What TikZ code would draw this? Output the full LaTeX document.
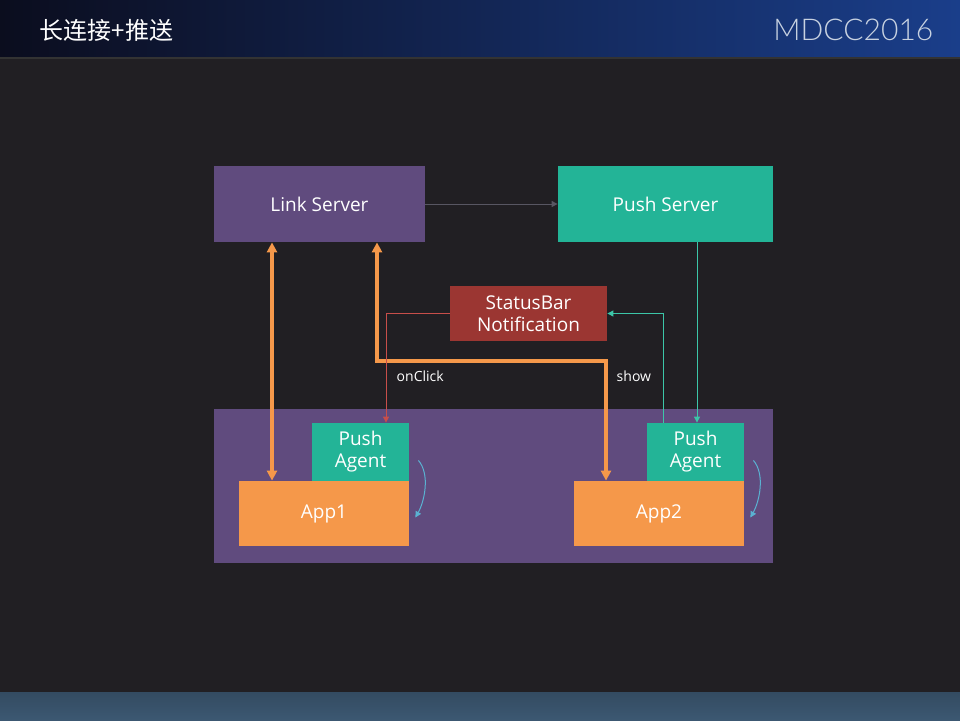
\documentclass[tikz,border=0pt]{standalone}
\usepackage{fontspec}
\setmainfont{Open Sans}
\newfontfamily\cjk{Noto Sans CJK SC}
\newfontfamily\thinfont{Lato Light}
\usepackage{tikz}
\usetikzlibrary{arrows.meta,calc}

\definecolor{bgdark}{RGB}{33,31,35}
\definecolor{boxpurple}{RGB}{96,75,126}
\definecolor{boxteal}{RGB}{35,180,151}
\definecolor{boxred}{RGB}{155,54,50}
\definecolor{boxorange}{RGB}{245,152,74}
\definecolor{linered}{RGB}{200,78,74}
\definecolor{lineteal}{RGB}{60,198,168}
\definecolor{lineblue}{RGB}{90,178,210}
\definecolor{linegray}{RGB}{88,86,98}
\definecolor{headleft}{RGB}{11,13,30}
\definecolor{headright}{RGB}{26,62,138}
\definecolor{footblue}{RGB}{60,88,114}
\definecolor{brandgray}{RGB}{200,210,225}

\begin{document}
\begin{tikzpicture}[x=1pt,y=-1pt,thick]
    %
    % `box' is used for all the coloured blocks.
    % `biarrow' is the thick orange link, `thinarrow' the small signals.
    \tikzstyle{box} = [text=white,inner sep=0pt,align=center,font=\fontsize{19}{22}\selectfont]
    \tikzstyle{biarrow} = [boxorange,line width=3.5pt,{Triangle[length=10pt,width=10pt]}-{Triangle[length=10pt,width=10pt]}]
    \tikzstyle{thinarrow} = [line width=1pt,-{Triangle[length=6pt,width=6pt]}]
    \tikzstyle{tag} = [text=white,font=\fontsize{14}{16}\selectfont]
    %
    % Background
    \useasboundingbox (0,0) rectangle (960,720);
    \fill[bgdark] (0,0) rectangle (960,720);
    \shade[left color=headleft,right color=headright] (0,0) rectangle (960,57);
    \fill[black!80] (0,57) rectangle (960,59);
    \shade[top color=footblue!85!black,bottom color=footblue] (0,692) rectangle (960,720);
    \node[anchor=west,text=white,font=\cjk\fontsize{24}{26}\selectfont] (title) at (36,30) {长连接+推送};
    \node[anchor=east,text=brandgray,font=\thinfont\fontsize{30}{31}\selectfont] (brand) at (937,30) {MDCC2016};
    %
    % Servers
    \node[box,fill=boxpurple,minimum width=211pt,minimum height=76pt] (link) at (319.5,204) {Link Server};
    \node[box,fill=boxteal,minimum width=215pt,minimum height=76pt] (push) at (665.5,204) {Push Server};
    \draw[thinarrow,linegray] (link) -- (push);
    %
    % Notification
    \node[box,fill=boxred,minimum width=157pt,minimum height=55pt] (status) at (528.5,313.5) {StatusBar\\Notification};
    %
    % Device
    \node[fill=boxpurple,minimum width=559pt,minimum height=154pt] (device) at (493.5,486) {};
    \node[box,fill=boxteal,minimum width=97pt,minimum height=58pt] (agent1) at (360.5,452) {Push\\Agent};
    \node[box,fill=boxorange,minimum width=170pt,minimum height=65pt] (app1) at (324,513.5) {App1};
    \node[box,fill=boxteal,minimum width=97pt,minimum height=58pt] (agent2) at (695.5,452) {Push\\Agent};
    \node[box,fill=boxorange,minimum width=170pt,minimum height=65pt] (app2) at (659,513.5) {App2};
    %
    % Long links
    \coordinate (l1) at (272,0);
    \coordinate (l2) at (377,361);
    \coordinate (l3) at (606,361);
    \draw[biarrow] (l1 |- link.south) -- (l1 |- app1.north);
    \draw[biarrow] (link.south -| l2) -- (l2) -- (l3) -- (l3 |- app2.north);
    %
    % onClick
    \coordinate (r1) at (386,0);
    \draw[thinarrow,linered] (status.west) -| (r1 |- agent1.north);
    \node[tag,anchor=west] (click) at (393,376) {onClick};
    %
    % show
    \coordinate (t1) at (697,0);
    \coordinate (t2) at (663,0);
    \draw[thinarrow,lineteal] (t1 |- push.south) -- (t1 |- agent2.north);
    \draw[thinarrow,lineteal] (t2 |- agent2.north) |- (status.east);
    \node[tag,anchor=west] (show) at (613,376) {show};
    %
    % Agent to App
    \draw[thinarrow,lineblue] ($(agent1.south east)+(9,-21)$) .. controls +(12,14) and +(9,-16) .. ($(app1.east)+(6,4)$);
    \draw[thinarrow,lineblue] ($(agent2.south east)+(9,-21)$) .. controls +(12,14) and +(9,-16) .. ($(app2.east)+(6,4)$);
    %
\end{tikzpicture}
\end{document}
